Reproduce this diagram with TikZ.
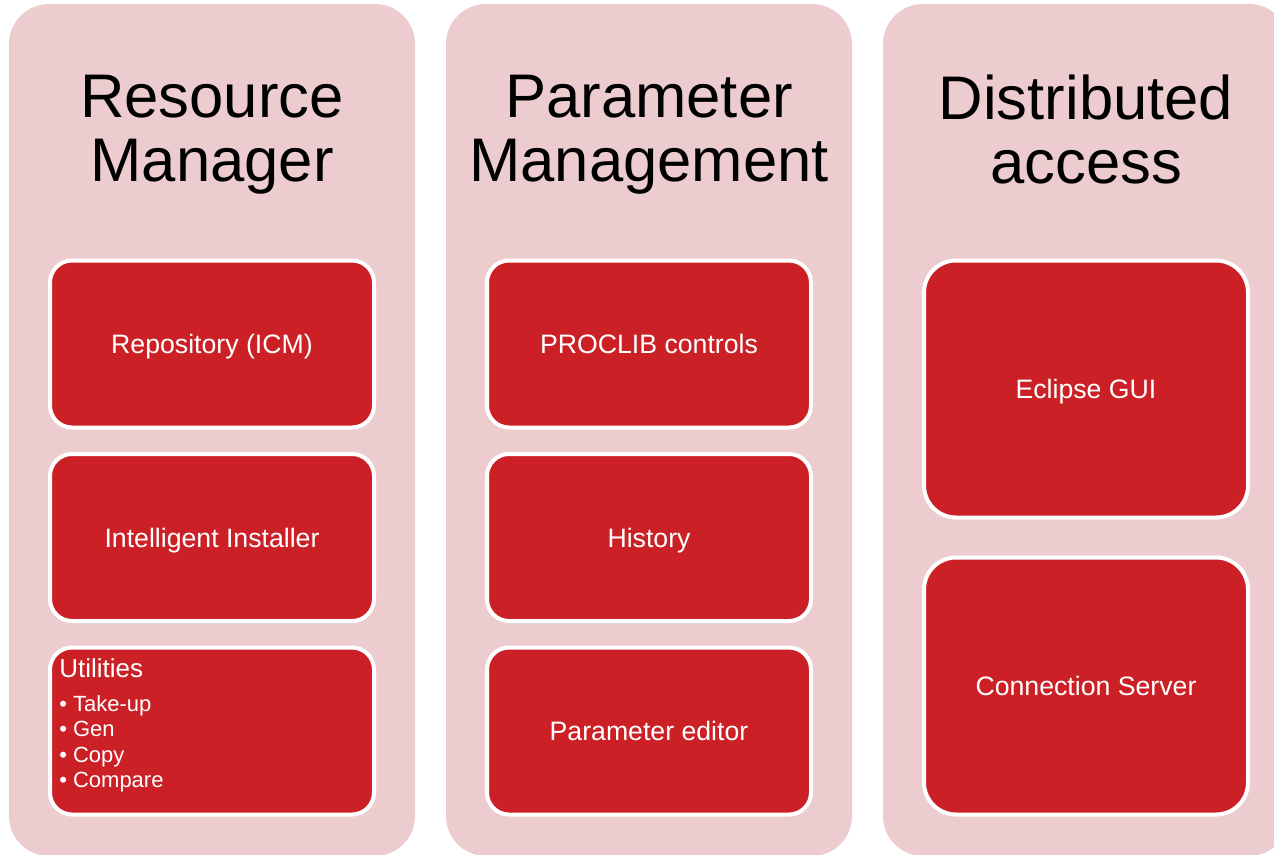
\documentclass[tikz,border=0pt]{standalone}
\usepackage{fontspec}
\setmainfont{Liberation Sans}
\definecolor{panelpink}{RGB}{236,204,206}
\definecolor{boxred}{RGB}{204,32,39}

\tikzset{
  panel/.style={fill=panelpink, rounded corners=30pt},
  title/.style={align=center, font=\fontsize{46.2}{48}\selectfont, text=black},
  redbox/.style={draw=white, line width=3pt, fill=boxred, rounded corners=16.5pt,
    text=white, font=\fontsize{20}{24}\selectfont, inner sep=0pt,
    text height=14.4pt, text depth=0pt,
    minimum width=243pt, minimum height=125.25pt},
  bigbox/.style={redbox, rounded corners=24pt, minimum height=192.75pt},
  utiltext/.style={align=left, text=white, inner sep=0pt,
    font=\fontsize{16.5}{19.1}\selectfont},
}

\begin{document}
\begin{tikzpicture}[x=0.75pt,y=-0.75pt]
  \useasboundingbox (0,0) rectangle (1274,854);
  \clip (0,0) rectangle (1274,854);

  % the three columns
  \fill[panel] (9,4) rectangle (415,856);
  \fill[panel] (446,4) rectangle (852,856);
  \fill[panel] (883,4) rectangle (1289,856);

  \node[title] (rmtitle) at (212,135) {Resource\\Manager};
  \node[title] (pmtitle) at (649,135) {Parameter\\Management};
  \node[title] (datitle) at (1086,129) {Distributed\\access};

  % Resource Manager
  \node[redbox] (repo) at (212,344) {Repository (ICM)};
  \node[redbox] (installer) at (212,537.5) {Intelligent Installer};
  \node[redbox] (utils) at (212,731) {};
  \node[utiltext, anchor=north west] (utilslist) at (59,658)
    {{\fontsize{19.5}{23}\selectfont Utilities}\\[6.4pt]
     • Take-up\\ • Gen\\ • Copy\\ • Compare};

  % Parameter Management
  \node[redbox] (proclib) at (649,344) {PROCLIB controls};
  \node[redbox] (history) at (649,537.5) {History};
  \node[redbox] (editor) at (649,731) {Parameter editor};

  % Distributed access
  \node[bigbox] (eclipse) at (1086,389) {Eclipse GUI};
  \node[bigbox] (connserver) at (1086,686) {Connection Server};
\end{tikzpicture}
\end{document}
